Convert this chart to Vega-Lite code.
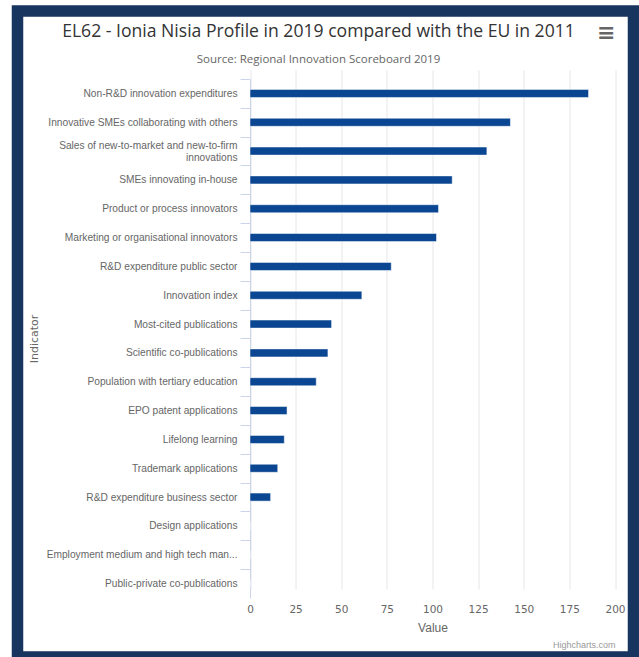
{
  "$schema": "https://vega.github.io/schema/vega-lite/v6.json",
  "width": 616,
  "height": 646,
  "autosize": {"type": "none"},
  "padding": {"left": 17.5, "top": 11, "right": 5.5, "bottom": 0},
  "background": "white",
  "view": {"fill": "white", "stroke": "#183560", "strokeWidth": 11.5},
  "title": {
    "text": "EL62 - Ionia Nisia Profile in 2019 compared with the EU in 2011",
    "subtitle": "Source: Regional Innovation Scoreboard 2019",
    "font": "Open Sans",
    "fontSize": 17.6,
    "fontWeight": "normal",
    "color": "#333333",
    "subtitleFont": "Open Sans",
    "subtitleFontSize": 11.5,
    "subtitleColor": "#666666",
    "subtitlePadding": 13,
    "anchor": "middle",
    "dx": -7,
    "offset": -54
  },
  "data": {
    "values": [
      {"indicator": "Non-R&D innovation expenditures", "value": 185.5},
      {"indicator": "Innovative SMEs collaborating with others", "value": 142.7},
      {"indicator": "Sales of new-to-market and new-to-firm innovations", "value": 129.8},
      {"indicator": "SMEs innovating in-house", "value": 110.8},
      {"indicator": "Product or process innovators", "value": 103.3},
      {"indicator": "Marketing or organisational innovators", "value": 102.2},
      {"indicator": "R&D expenditure public sector", "value": 77.4},
      {"indicator": "Innovation index", "value": 61.3},
      {"indicator": "Most-cited publications", "value": 44.7},
      {"indicator": "Scientific co-publications", "value": 42.7},
      {"indicator": "Population with tertiary education", "value": 36.3},
      {"indicator": "EPO patent applications", "value": 20.3},
      {"indicator": "Lifelong learning", "value": 18.8},
      {"indicator": "Trademark applications", "value": 15.2},
      {"indicator": "R&D expenditure business sector", "value": 11.3},
      {"indicator": "Design applications", "value": 0},
      {"indicator": "Employment medium and high tech man...", "value": 0},
      {"indicator": "Public-private co-publications", "value": 0}
    ]
  },
  "encoding": {
    "y": {
      "field": "indicator",
      "type": "nominal",
      "sort": null,
      "scale": {"range": [68, 587], "paddingInner": 0.72, "paddingOuter": 0.36},
      "axis": {
        "orient": "left",
        "offset": -232.5,
        "title": "Indicator",
        "titleFont": "DejaVu Sans",
        "titleFontSize": 11,
        "titleFontWeight": "normal",
        "titleColor": "#666666",
        "titlePadding": 11,
        "labelFont": "Liberation Sans",
        "labelFontSize": 10.2,
        "labelColor": "#666666",
        "labelLimit": 300,
        "labelPadding": 3,
        "labelLineHeight": 12,
        "labelExpr": "datum.value == 'Sales of new-to-market and new-to-firm innovations' ? ['Sales of new-to-market and new-to-firm', 'innovations'] : datum.value",
        "tickSize": 10,
        "tickColor": "#ccd6eb",
        "tickOffset": -14.42,
        "labelOffset": {
          "condition": {"test": "datum.value == 'Sales of new-to-market and new-to-firm innovations'", "value": 8.9},
          "value": 14.42
        },
        "domainColor": "#ccd6eb",
        "grid": false
      }
    }
  },
  "layer": [
    {
      "mark": {"type": "bar", "color": "#0a4691", "stroke": "#ffffff", "strokeWidth": 0.5},
      "encoding": {
        "x": {
          "field": "value",
          "type": "quantitative",
          "scale": {"domain": [0, 200], "nice": false, "range": [232.5, 597.5]},
          "axis": {
            "orient": "bottom",
            "offset": -59,
            "values": [0, 25, 50, 75, 100, 125, 150, 175, 200],
            "title": "Value",
            "titleFont": "Liberation Sans",
            "titleFontSize": 12,
            "titleFontWeight": "normal",
            "titleColor": "#666666",
            "titlePadding": 8,
            "labelFont": "DejaVu Sans",
            "labelFontSize": 10.5,
            "labelColor": "#666666",
            "labelPadding": 6,
            "labelFlush": false,
            "ticks": false,
            "domain": false,
            "grid": true,
            "gridColor": "#e6e6e6"
          }
        }
      }
    },
    {
      "mark": {"type": "bar", "opacity": 0},
      "encoding": {
        "x": {
          "field": "value",
          "type": "quantitative",
          "axis": {
            "orient": "bottom",
            "offset": -59,
            "title": "Highcharts.com",
            "titleAnchor": "end",
            "titleFont": "Liberation Sans",
            "titleFontSize": 9,
            "titleFontWeight": "normal",
            "titleColor": "#999999",
            "titlePadding": 42,
            "labels": false,
            "ticks": false,
            "domain": false,
            "grid": false
          }
        }
      }
    },
    {
      "mark": {"type": "bar", "opacity": 0},
      "encoding": {
        "x": {
          "field": "value",
          "type": "quantitative",
          "axis": {
            "orient": "top",
            "offset": -33,
            "title": "≡",
            "titleAnchor": "end",
            "titleFont": "DejaVu Sans",
            "titleFontSize": 22,
            "titleFontWeight": "bold",
            "titleColor": "#666666",
            "titlePadding": 0,
            "labels": false,
            "ticks": false,
            "domain": false,
            "grid": false
          }
        }
      }
    }
  ],
  "resolve": {"axis": {"x": "independent"}}
}
